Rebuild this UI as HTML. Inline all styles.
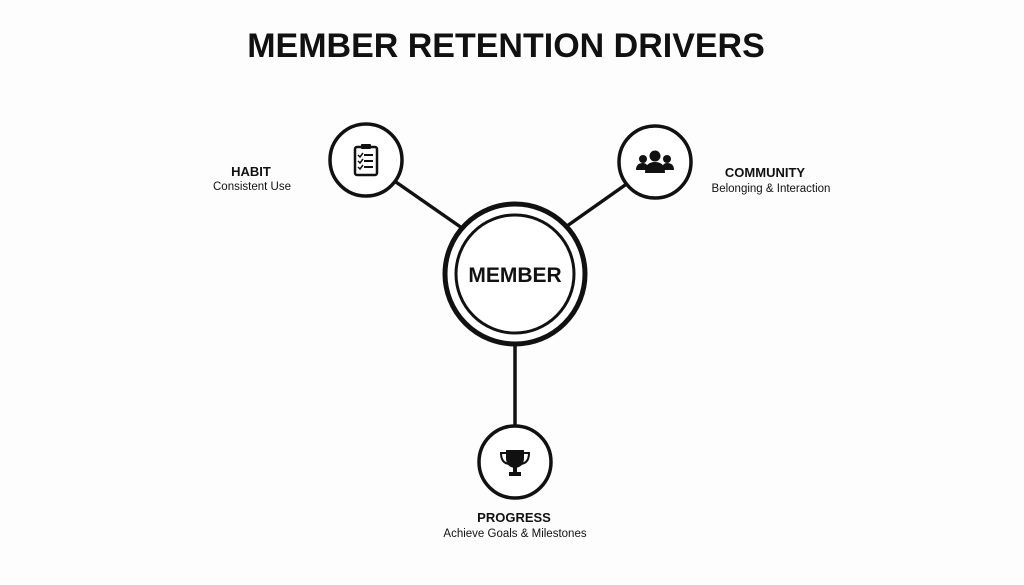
<!DOCTYPE html>
<html><head><style>
body{margin:0;background:#fdfdfd;}
svg{display:block}
text{font-family:"Liberation Sans",sans-serif;fill:#111}
</style></head><body>
<svg width="1024" height="585" viewBox="0 0 1024 585">
<rect width="1024" height="585" fill="#fdfdfd"/>
<text x="506" y="57" font-size="34" font-weight="bold" text-anchor="middle">MEMBER RETENTION DRIVERS</text>
<g stroke="#111" stroke-width="3.5" fill="none">
<line x1="393" y1="180" x2="462" y2="228"/>
<line x1="628" y1="183" x2="567" y2="226"/>
<line x1="515" y1="345" x2="515" y2="427"/>
<circle cx="366" cy="160" r="36" fill="#fff"/>
<circle cx="655" cy="162" r="36" fill="#fff"/>
<circle cx="515" cy="462" r="36" fill="#fff"/>
<circle cx="515" cy="274" r="70" stroke-width="5" fill="#fff"/>
<circle cx="515" cy="274" r="59" stroke-width="3"/>
</g>
<text x="515" y="282" font-size="21" font-weight="bold" text-anchor="middle">MEMBER</text>
<g transform="translate(366,160)">
<rect x="-11" y="-13" width="22" height="28" rx="2" fill="none" stroke="#111" stroke-width="2.5"/>
<rect x="-5" y="-16" width="10" height="5" rx="1" fill="#111"/>
<g stroke="#111" stroke-width="2">
<line x1="-2" y1="-5" x2="7" y2="-5"/><line x1="-2" y1="1" x2="7" y2="1"/><line x1="-2" y1="7" x2="7" y2="7"/>
<polyline points="-8,-5 -6,-3 -3,-7" fill="none" stroke-width="1.5"/>
<polyline points="-8,1 -6,3 -3,-1" fill="none" stroke-width="1.5"/>
<polyline points="-8,7 -6,9 -3,5" fill="none" stroke-width="1.5"/>
</g></g>
<g transform="translate(655,162)" fill="#111">
<circle cx="0" cy="-6" r="5.5"/><path d="M-10,11 Q-10,0 0,0 Q10,0 10,11Z"/>
<circle cx="-12" cy="-3" r="4"/><path d="M-19,8 Q-19,1 -12,1 Q-7,1 -7,8Z"/>
<circle cx="12" cy="-3" r="4"/><path d="M19,8 Q19,1 12,1 Q7,1 7,8Z"/>
</g>
<g transform="translate(515,462)" fill="#111">
<path d="M-9,-12 H9 V-4 Q9,5 0,6 Q-9,5 -9,-4Z"/>
<path d="M-9,-9 H-14 Q-14,1 -6,2" fill="none" stroke="#111" stroke-width="2"/>
<path d="M9,-9 H14 Q14,1 6,2" fill="none" stroke="#111" stroke-width="2"/>
<rect x="-2" y="5" width="4" height="6"/>
<rect x="-6" y="10" width="12" height="4"/>
</g>
<text x="251" y="176" font-size="13" font-weight="bold" text-anchor="middle">HABIT</text>
<text x="252" y="190" font-size="11.5" text-anchor="middle">Consistent Use</text>
<text x="765" y="177" font-size="13" font-weight="bold" text-anchor="middle">COMMUNITY</text>
<text x="771" y="192" font-size="11.5" text-anchor="middle">Belonging &amp; Interaction</text>
<text x="514" y="522" font-size="13" font-weight="bold" text-anchor="middle">PROGRESS</text>
<text x="515" y="537" font-size="11.5" text-anchor="middle">Achieve Goals &amp; Milestones</text>
</svg>
</body></html>
